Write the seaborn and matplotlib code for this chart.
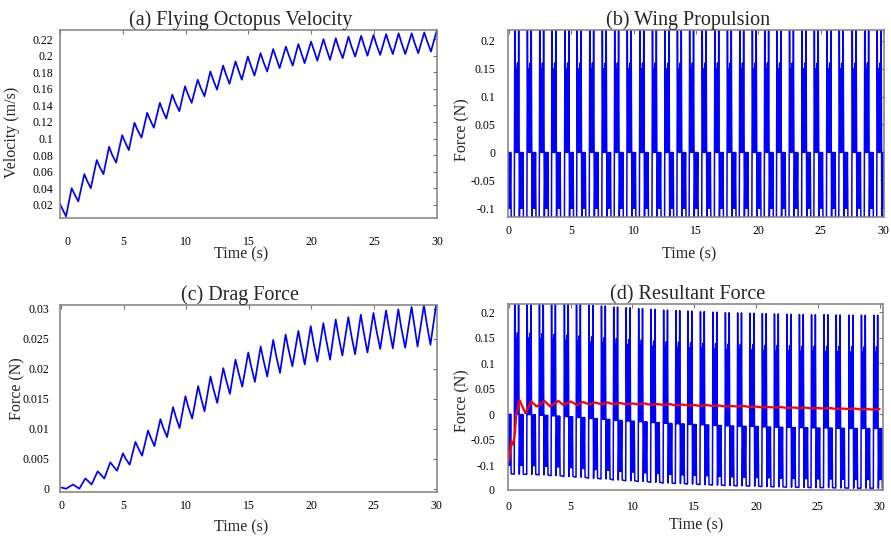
import numpy as np
import matplotlib
matplotlib.use("Agg")
import matplotlib.pyplot as plt
import matplotlib.transforms as mtransforms
import seaborn as sns

# (a) velocity: peaks, shoulders (after each peak), troughs
vel_peak_t = [0.93, 1.94, 2.93, 3.91, 4.95, 5.93, 6.94, 7.95, 8.94, 9.95, 10.96, 11.97, 12.98, 13.97, 14.95,
              15.96, 16.97, 17.98, 18.97, 19.98, 20.97, 21.95, 22.96, 23.97, 24.95, 25.96, 26.95, 27.99, 28.99]
vel_peak_v = [0.040, 0.057, 0.074, 0.090, 0.104, 0.119, 0.131, 0.143, 0.153, 0.163, 0.171, 0.181, 0.188, 0.193, 0.199,
              0.203, 0.208, 0.211, 0.214, 0.217, 0.220, 0.221, 0.223, 0.224, 0.225, 0.226, 0.227, 0.227, 0.228]
vel_shoulder_t = [1.15, 2.16, 3.15, 4.13, 5.17, 6.15, 7.16, 8.17, 9.16, 10.17, 11.18, 12.19, 13.2, 14.19, 15.17,
                  16.18, 17.19, 18.2, 19.19, 20.2, 21.19, 22.17, 23.18, 24.19, 25.17, 26.18, 27.17, 28.21, 29.21]
vel_shoulder_v = [0.033, 0.049, 0.066, 0.081, 0.096, 0.111, 0.123, 0.134, 0.144, 0.154, 0.162, 0.171, 0.178, 0.183, 0.189,
                  0.193, 0.198, 0.201, 0.204, 0.207, 0.209, 0.210, 0.212, 0.213, 0.214, 0.215, 0.216, 0.216, 0.218]
vel_trough_t = [0.0, 0.48, 1.46, 2.45, 3.46, 4.47, 5.48, 6.49, 7.47, 8.46, 9.5, 10.48, 11.5, 12.5, 13.49, 14.47, 15.48,
                16.49, 17.48, 18.52, 19.47, 20.48, 21.49, 22.5, 23.49, 24.47, 25.48, 26.49, 27.48, 28.51, 29.52, 30.0]
vel_trough_v = [0.021, 0.006, 0.024, 0.040, 0.057, 0.071, 0.086, 0.101, 0.113, 0.124, 0.133, 0.143, 0.151, 0.159, 0.166,
                0.171, 0.176, 0.181, 0.185, 0.188, 0.191, 0.194, 0.195, 0.197, 0.199, 0.200, 0.201, 0.202, 0.202,
                0.203, 0.205, 0.231]

# (c) drag force
drag_peak_t = [0.94, 1.93, 2.92, 3.93, 4.94, 5.94, 6.95, 7.94, 8.95, 9.94, 10.96, 11.95, 12.97, 13.95, 14.97,
               15.96, 16.97, 17.96, 18.98, 19.97, 20.98, 21.97, 22.98, 23.98, 24.99, 26.0, 26.98, 28.04, 29.03]
drag_peak_v = [0.0007, 0.0017, 0.0029, 0.0044, 0.0059, 0.0078, 0.0097, 0.0116, 0.0136, 0.0154, 0.0171, 0.0187,
               0.0201, 0.0215, 0.0227, 0.0237, 0.0248, 0.0257, 0.0263, 0.0271, 0.0276, 0.0282, 0.0286, 0.0290,
               0.0293, 0.0297, 0.0299, 0.0303, 0.0306]
drag_shoulder_t = [1.16, 2.15, 3.14, 4.15, 5.16, 6.16, 7.17, 8.16, 9.17, 10.16, 11.18, 12.17, 13.19, 14.17, 15.19,
                   16.18, 17.19, 18.18, 19.2, 20.19, 21.2, 22.19, 23.2, 24.2, 25.21, 26.22, 27.2, 28.26, 29.25]
drag_shoulder_v = [0.0004, 0.0013, 0.0024, 0.0038, 0.0050, 0.0068, 0.0085, 0.0102, 0.0120, 0.0137, 0.0152, 0.0167,
                   0.0182, 0.0195, 0.0205, 0.0215, 0.0223, 0.0233, 0.0238, 0.0244, 0.0249, 0.0255, 0.0258, 0.0262,
                   0.0266, 0.0269, 0.0270, 0.0273, 0.0276]
drag_trough_t = [0.0, 0.4, 1.45, 2.43, 3.45, 4.47, 5.48, 6.47, 7.46, 8.47, 9.47, 10.48, 11.47, 12.49, 13.5, 14.49,
                 15.5, 16.49, 17.51, 18.5, 19.49, 20.5, 21.52, 22.5, 23.52, 24.51, 25.53, 26.54, 27.53, 28.52,
                 29.55, 30.0]
drag_trough_v = [0.0002, 0.0, 0.0, 0.0007, 0.0017, 0.0030, 0.0040, 0.0055, 0.0071, 0.0086, 0.0101, 0.0117, 0.0129,
                 0.0143, 0.0158, 0.0170, 0.0178, 0.0187, 0.0193, 0.0204, 0.0207, 0.0212, 0.0215, 0.0222, 0.0224,
                 0.0227, 0.0233, 0.0234, 0.0235, 0.0237, 0.0240, 0.0306]

stroke_start = [-0.55, 0.43, 1.44, 2.43, 3.41, 4.45, 5.43, 6.44, 7.45, 8.44, 9.45, 10.46, 11.47, 12.48, 13.47,
                14.45, 15.46, 16.47, 17.48, 18.47, 19.48, 20.47, 21.45, 22.46, 23.47, 24.45, 25.46, 26.45, 27.49,
                28.49, 29.49]
stroke_dt = [0.00, 0.04, 0.09, 0.145, 0.20, 0.255, 0.31, 0.35, 0.41, 0.47, 0.525, 0.58, 0.635, 0.69, 0.73]
stroke_f = [-0.117, 0.222, 0.0, 0.15, 0.0, 0.16, 0.0, 0.222, -0.117, 0.0, -0.10, 0.0, -0.10, 0.0, -0.117]

# (d) resultant force: downward shift of each stroke (read from the peaks) and the mean (red)
res_shift = [0.0, 0.0005, 0.001, 0.002, 0.0035, 0.005, 0.0065, 0.0085, 0.01, 0.012, 0.0135, 0.015, 0.0165, 0.018,
             0.019, 0.020, 0.021, 0.022, 0.023, 0.0235, 0.024, 0.025, 0.0255, 0.026, 0.0265, 0.027, 0.027, 0.0275,
             0.028, 0.028, 0.028]
mean_t = [0.0, 0.2, 0.33, 0.45, 0.6, 0.85, 1.33, 1.8, 2.25, 2.87, 3.35, 4.0, 4.4, 5.0, 5.5, 6.0, 6.5, 7.0, 7.5,
          8.0, 8.5, 9.0, 9.5, 10.0, 10.5, 11.0, 11.5, 12.0, 12.5, 13.0, 13.5, 14.0, 14.5, 15.0, 15.5, 16.0, 16.5,
          17.0, 17.5, 18.0, 18.5, 19.0, 19.5, 20.0, 20.5, 21.0, 21.5, 22.0, 22.5, 23.0, 23.5, 24.0, 24.5, 25.0,
          25.5, 26.0, 26.5, 27.0, 27.5, 28.0, 28.5, 29.0, 29.5, 30.0]
mean_v = [-0.092, -0.053, -0.06, -0.045, 0.0, 0.028, 0.002, 0.025, 0.015, 0.026, 0.015, 0.026, 0.018, 0.025, 0.018,
          0.024, 0.019, 0.023, 0.019, 0.023, 0.019, 0.022, 0.019, 0.021, 0.019, 0.021, 0.018, 0.020, 0.018, 0.020,
          0.017, 0.019, 0.017, 0.018, 0.016, 0.018, 0.016, 0.017, 0.015, 0.016, 0.015, 0.016, 0.014, 0.015, 0.013,
          0.014, 0.013, 0.014, 0.012, 0.013, 0.012, 0.013, 0.011, 0.012, 0.011, 0.012, 0.010, 0.011, 0.010, 0.011,
          0.009, 0.010, 0.009, 0.010]

sns.set_theme(style="white")
plt.rcParams["font.family"] = ["Liberation Serif", "DejaVu Serif"]
plt.rcParams["xtick.direction"] = "in"
plt.rcParams["ytick.direction"] = "in"

fig = plt.figure(figsize=(8.91, 5.38), dpi=100)
ax_a = fig.add_axes([0.0673, 0.5948, 0.4231, 0.3494])
ax_b = fig.add_axes([0.5698, 0.5972, 0.4227, 0.3470])
ax_c = fig.add_axes([0.0673, 0.0855, 0.4228, 0.3470])
ax_d = fig.add_axes([0.5705, 0.0898, 0.4202, 0.3452])


def zigzag(*pairs):
    # join the read points and order them in time
    t = np.concatenate([p[0] for p in pairs])
    v = np.concatenate([p[1] for p in pairs])
    order = np.argsort(t)
    return t[order], v[order]


# (a)
t, v = zigzag((vel_peak_t, vel_peak_v), (vel_shoulder_t, vel_shoulder_v), (vel_trough_t, vel_trough_v))
sns.lineplot(x=t, y=v, ax=ax_a, color="blue", linewidth=1.25, estimator=None, sort=False)

# (c)
t, v = zigzag((drag_peak_t, drag_peak_v), (drag_shoulder_t, drag_shoulder_v), (drag_trough_t, drag_trough_v))
sns.lineplot(x=t, y=v, ax=ax_c, color="blue", linewidth=1.25, estimator=None, sort=False)

# (b)
wing_t = (np.array(stroke_start)[:, None] + np.array(stroke_dt)[None, :]).ravel()
wing_f = np.tile(stroke_f, len(stroke_start))
sns.lineplot(x=wing_t, y=wing_f, ax=ax_b, color="blue", linewidth=1.1, estimator=None, sort=False)

# (d)
res_f = (np.array(stroke_f)[None, :] - np.array(res_shift)[:, None]).ravel()
sns.lineplot(x=wing_t, y=res_f, ax=ax_d, color="blue", linewidth=1.1, estimator=None, sort=False)
sns.lineplot(x=mean_t, y=mean_v, ax=ax_d, color="red", linewidth=1.6, estimator=None, sort=False)

panels = [
    (ax_a, "(a) Flying Octopus Velocity", "Velocity (m/s)", (0, 30), (0.004, 0.231),
     [0.02, 0.04, 0.06, 0.08, 0.1, 0.12, 0.14, 0.16, 0.18, 0.2, 0.22],
     ["0.02", "0.04", "0.06", "0.08", "0.1", "0.12", "0.14", "0.16", "0.18", "0.2", "0.22"],
     13, 4.8, (-0.106, 0.455), (0.48, -0.152)),
    (ax_b, "(b) Wing Propulsion", "Force (N)", (-0.1, 30.1), (-0.115, 0.219),
     [-0.1, -0.05, 0, 0.05, 0.1, 0.15, 0.2],
     ["-0.1", "-0.05", "0", "0.05", "0.1", "0.15", "0.2"],
     6.3, 9, (-0.100, 0.469), (0.481, -0.161)),
    (ax_c, "(c) Drag Force", "Force (N)", (-0.1, 30.05), (-0.00055, 0.03057),
     [0, 0.005, 0.01, 0.015, 0.02, 0.025, 0.03],
     ["0", "0.005", "0.01", "0.015", "0.02", "0.025", "0.03"],
     5.4, 7.7, (-0.093, 0.553), (0.482, -0.148)),
    (ax_d, "(d) Resultant Force", "Force (N)", (-0.05, 30.25), (-0.148, 0.216),
     [-0.147, -0.1, -0.05, 0, 0.05, 0.1, 0.15, 0.2],
     ["0", "-0.1", "-0.05", "0", "0.05", "0.1", "0.15", "0.2"],
     8.5, 9.6, (-0.100, 0.48), (0.502, -0.149)),
]

for ax, title, ylabel, xlim, ylim, yt, ytl, xpad, ypad, ylc, xlc in panels:
    ax.set_xlim(*xlim)
    ax.set_ylim(*ylim)
    ax.set_xticks([0, 5, 10, 15, 20, 25, 30])
    ax.set_xticklabels(["0", "5", "10", "15", "20", "25", "30"])
    ax.set_yticks(yt)
    ax.set_yticklabels(ytl)
    ax.tick_params(axis="both", which="major", labelsize=8.5, length=3, width=0.8, color="#777777",
                   top=True, right=True, colors="#777777", labelcolor="black")
    ax.tick_params(axis="x", pad=xpad)
    ax.tick_params(axis="y", pad=ypad)
    for s in ax.spines.values():
        s.set_color("#808080")
        s.set_linewidth(1.1)
    ax.set_title(title, fontsize=14.5, x=0.479, pad=3.5)
    ax.set_xlabel("Time (s)", fontsize=11.5)
    ax.set_ylabel(ylabel, fontsize=11.5)
    ax.xaxis.set_label_coords(*xlc)
    ax.yaxis.set_label_coords(*ylc)

# the "0" under panel (a) sits a little right of the axis corner
zero_label = ax_a.xaxis.get_major_ticks()[0].label1
zero_label.set_transform(zero_label.get_transform()
                         + mtransforms.ScaledTranslation(8 / 100, 0, fig.dpi_scale_trans))

fig.savefig("out.png", dpi=100, facecolor="white")
